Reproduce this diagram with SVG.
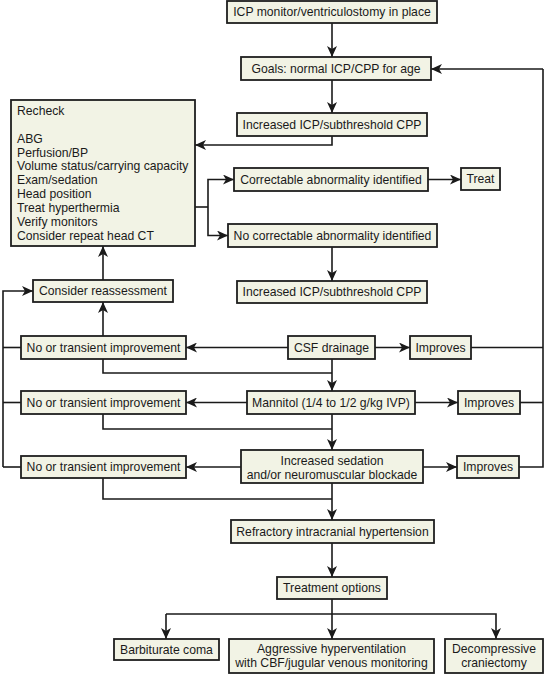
<svg xmlns="http://www.w3.org/2000/svg" width="545" height="675" viewBox="0 0 545 675">
<style>
.box{fill:#f2f3e5;stroke:#1e1e1e;stroke-width:1.8}
.t{font-family:"Liberation Sans",Arial,sans-serif;font-size:12.2px;fill:#1a1a1a;text-anchor:middle}
.tl{font-family:"Liberation Sans",Arial,sans-serif;font-size:12.2px;fill:#1a1a1a}
.c{fill:none;stroke:#1a1a1a;stroke-width:1.6}
.a{marker-end:url(#ah)}
</style>
<defs>
<marker id="ah" viewBox="0 0 11 10" markerWidth="12" markerHeight="10" refX="11" refY="5" orient="auto" markerUnits="userSpaceOnUse">
<path d="M0,0 L11,5 L0,10 L3,5 z" fill="#1a1a1a"/>
</marker>
</defs>
<rect width="545" height="675" fill="#ffffff"/>

<g id="connectors">
<path class="c a" d="M332,23 V57"/>
<path class="c a" d="M332,80 V113"/>
<path class="c a" d="M332,136 V145 H195"/>
<path class="c a" d="M543,69 H431"/>
<path class="c" d="M195,207 H208"/>
<path class="c a" d="M208,207 V179.5 H234"/>
<path class="c a" d="M208,207 V235.5 H228"/>
<path class="c a" d="M428,179.5 H461"/>
<path class="c a" d="M332,247 V281"/>
<path class="c a" d="M103,280 V246"/>
<path class="c a" d="M3,467 V291 H33"/>
<path class="c" d="M21,347.5 H3"/>
<path class="c" d="M21,402.5 H3"/>
<path class="c" d="M21,467 H3"/>
<path class="c a" d="M103,336 V302"/>
<path class="c a" d="M288,347.5 H186"/>
<path class="c a" d="M375,347.5 H410"/>
<path class="c" d="M471,347.5 H543"/>
<path class="c" d="M103,359 V373 H332"/>
<path class="c a" d="M332,359 V391"/>
<path class="c a" d="M247,402.5 H186"/>
<path class="c a" d="M415,402.5 H458"/>
<path class="c" d="M520,402.5 H543"/>
<path class="c" d="M103,414 V429 H332"/>
<path class="c a" d="M332,414 V450"/>
<path class="c a" d="M241,467 H186"/>
<path class="c a" d="M423,467 H457"/>
<path class="c" d="M519,467 H543 V69"/>
<path class="c" d="M103,478 V499 H332"/>
<path class="c a" d="M332,483 V520"/>
<path class="c a" d="M332,543 V577"/>
<path class="c" d="M332,599 V614"/>
<path class="c a" d="M166,614 V639"/>
<path class="c a" d="M332,614 V639"/>
<path class="c a" d="M166,614 H496 V639"/>
</g>

<g id="n-icp-monitor"><rect class="box" x="227" y="1" width="210" height="22"/><text class="t" x="332" y="16.3">ICP monitor/ventriculostomy in place</text></g>
<g id="n-goals"><rect class="box" x="241" y="57" width="190" height="23"/><text class="t" x="336" y="72.8">Goals: normal ICP/CPP for age</text></g>
<g id="n-increased1"><rect class="box" x="237" y="113" width="190" height="23"/><text class="t" x="332" y="128.8">Increased ICP/subthreshold CPP</text></g>
<g id="n-recheck"><rect class="box" x="11" y="100" width="184" height="146"/>
<text class="tl" x="17" y="115">Recheck</text>
<text class="tl" x="17" y="142.7">ABG</text>
<text class="tl" x="17" y="156.6">Perfusion/BP</text>
<text class="tl" x="17" y="170.4">Volume status/carrying capacity</text>
<text class="tl" x="17" y="184.3">Exam/sedation</text>
<text class="tl" x="17" y="198.2">Head position</text>
<text class="tl" x="17" y="212">Treat hyperthermia</text>
<text class="tl" x="17" y="225.9">Verify monitors</text>
<text class="tl" x="17" y="239.7">Consider repeat head CT</text>
</g>
<g id="n-correctable"><rect class="box" x="234" y="168" width="194" height="23"/><text class="t" x="331" y="183.8">Correctable abnormality identified</text></g>
<g id="n-treat"><rect class="box" x="461" y="168" width="39" height="22"/><text class="t" x="480.5" y="183.3">Treat</text></g>
<g id="n-nocorrectable"><rect class="box" x="228" y="224" width="209" height="23"/><text class="t" x="332.5" y="239.8">No correctable abnormality identified</text></g>
<g id="n-increased2"><rect class="box" x="237" y="281" width="190" height="22"/><text class="t" x="332" y="296.3">Increased ICP/subthreshold CPP</text></g>
<g id="n-reassess"><rect class="box" x="33" y="280" width="140" height="22"/><text class="t" x="103" y="295.3">Consider reassessment</text></g>
<g id="n-not1"><rect class="box" x="21" y="336" width="165" height="23"/><text class="t" x="103.5" y="351.8">No or transient improvement</text></g>
<g id="n-csf"><rect class="box" x="288" y="336" width="87" height="23"/><text class="t" x="331.5" y="351.8">CSF drainage</text></g>
<g id="n-imp1"><rect class="box" x="410" y="336" width="61" height="23"/><text class="t" x="440.5" y="351.8">Improves</text></g>
<g id="n-not2"><rect class="box" x="21" y="391" width="165" height="23"/><text class="t" x="103.5" y="406.8">No or transient improvement</text></g>
<g id="n-mannitol"><rect class="box" x="247" y="391" width="168" height="23"/><text class="t" x="331" y="406.8">Mannitol (1/4 to 1/2 g/kg IVP)</text></g>
<g id="n-imp2"><rect class="box" x="458" y="391" width="62" height="23"/><text class="t" x="489" y="406.8">Improves</text></g>
<g id="n-not3"><rect class="box" x="21" y="456" width="165" height="22"/><text class="t" x="103.5" y="471.3">No or transient improvement</text></g>
<g id="n-sedation"><rect class="box" x="241" y="450" width="182" height="33"/><text class="t" x="332" y="465.3">Increased sedation</text><text class="t" x="332" y="478.7">and/or neuromuscular blockade</text></g>
<g id="n-imp3"><rect class="box" x="457" y="456" width="62" height="22"/><text class="t" x="488" y="471.3">Improves</text></g>
<g id="n-refractory"><rect class="box" x="231" y="520" width="203" height="23"/><text class="t" x="332.5" y="535.8">Refractory intracranial hypertension</text></g>
<g id="n-options"><rect class="box" x="277" y="577" width="110" height="22"/><text class="t" x="332" y="592.3">Treatment options</text></g>
<g id="n-barbiturate"><rect class="box" x="114" y="639" width="105" height="21"/><text class="t" x="166.5" y="653.8">Barbiturate coma</text></g>
<g id="n-aggressive"><rect class="box" x="229" y="639" width="205" height="34"/><text class="t" x="331.5" y="653.3">Aggressive hyperventilation</text><text class="t" x="331.5" y="667.3">with CBF/jugular venous monitoring</text></g>
<g id="n-decompressive"><rect class="box" x="445" y="639" width="98" height="34"/><text class="t" x="494" y="653.3">Decompressive</text><text class="t" x="494" y="667.3">craniectomy</text></g>
</svg>
